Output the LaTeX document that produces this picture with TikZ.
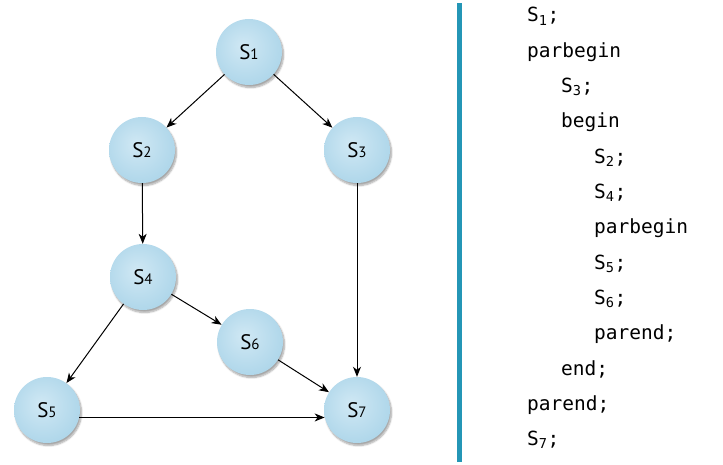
\documentclass[tikz,border=0pt]{standalone}
\usepackage{fontspec}
\newfontfamily\labelfont{PT Sans}
\newfontfamily\codefont{DejaVu Sans Mono}
\usetikzlibrary{positioning, arrows.meta, shadows.blur}
\definecolor{ballin}{RGB}{208,232,244}
\definecolor{ballout}{RGB}{128,190,220}
\definecolor{barblue}{RGB}{36,150,182}
\pgfdeclareradialshading{stmtball}{\pgfpoint{-5bp}{5bp}}{color(0bp)=(ballin); color(30bp)=(ballin!55!ballout); color(50bp)=(ballout)}
\tikzset{
  >={Stealth[length=10pt, width=8pt, inset=3pt]},
  stmt/.style={circle, minimum size=66pt, inner sep=0pt, shading=stmtball,
    blur shadow={shadow xshift=1.5pt, shadow yshift=-2.5pt, shadow blur steps=7, shadow opacity=35},
    font=\labelfont\fontsize{21}{21}\selectfont},
  flow/.style={->, line width=1pt},
  codeline/.style={anchor=base west, inner sep=0pt, font=\codefont\fontsize{19.5}{20}\selectfont},
}
\newcommand{\stlab}[1]{S{\fontsize{15}{15}\selectfont #1}}
\newcommand{\stcode}[1]{S\textsubscript{#1};}

\begin{document}
\begin{tikzpicture}[x=1pt, y=-1pt]
      \useasboundingbox (0,0) rectangle (723,465);

      % graph
      \node[stmt] (s1) at (249,52)  {\stlab{1}};
      \node[stmt] (s2) at (142,150) {\stlab{2}};
      \node[stmt] (s3) at (357,150) {\stlab{3}};
      \node[stmt] (s4) at (143,277) {\stlab{4}};
      \node[stmt] (s6) at (250,342) {\stlab{6}};
      \node[stmt] (s5) at (47,410)  {\stlab{5}};
      \node[stmt] (s7) at (357,410) {\stlab{7}};

      \draw[flow] (s1) -- (s2);
      \draw[flow] (s1) -- (s3);
      \draw[flow] (s2) -- (s4);
      \draw[flow] (s3) -- (s7);
      \draw[flow] (s4) -- (s5);
      \draw[flow] (s4) -- (s6);
      \draw[flow] (s6) -- (s7);
      \draw[flow] (s5.-13) -- (s7.193);

      % separator
      \fill[barblue] (457,3) rectangle (461.5,462);

      % program text
      \node[codeline] (c1)  at (527,22)    {\stcode{1}};
      \node[codeline] (c2)  at (527,57.3)  {parbegin};
      \node[codeline] (c3)  at (561,92.6)  {\stcode{3}};
      \node[codeline] (c4)  at (561,127.9) {begin};
      \node[codeline] (c5)  at (594,163.2) {\stcode{2}};
      \node[codeline] (c6)  at (594,198.5) {\stcode{4}};
      \node[codeline] (c7)  at (594,233.8) {parbegin};
      \node[codeline] (c8)  at (594,269.1) {\stcode{5}};
      \node[codeline] (c9)  at (594,304.4) {\stcode{6}};
      \node[codeline] (c10) at (594,339.7) {parend;};
      \node[codeline] (c11) at (561,375)   {end;};
      \node[codeline] (c12) at (527,410.3) {parend;};
      \node[codeline] (c13) at (527,445.6) {\stcode{7}};
\end{tikzpicture}
\end{document}
